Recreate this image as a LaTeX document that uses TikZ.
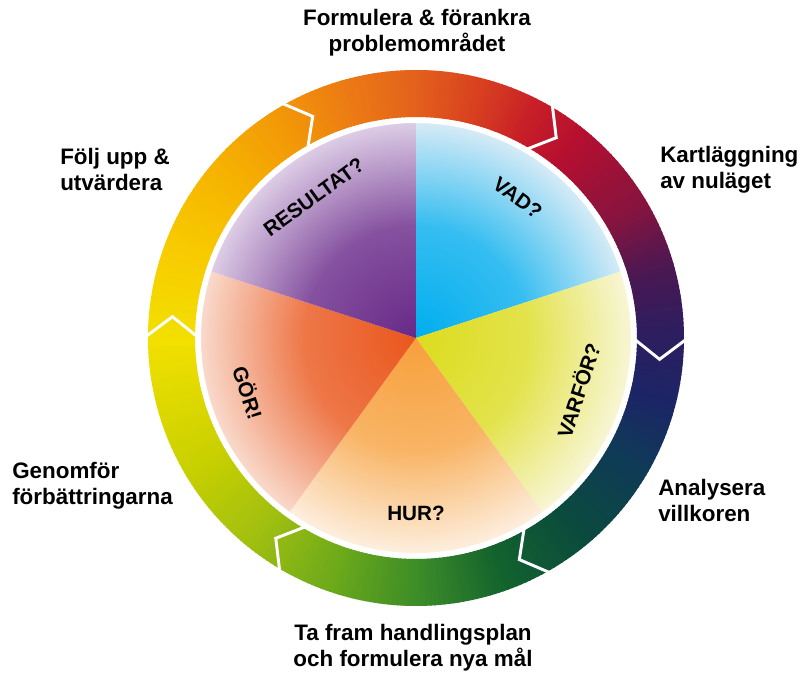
\documentclass[tikz,border=0pt]{standalone}
\usepackage{fontspec}
\setmainfont{Liberation Sans}
\usepackage{tikz}
\usetikzlibrary{positioning}
% pie colours (centre / rim)
\definecolor{vadin}{HTML}{00AEEF}
\definecolor{vadout}{HTML}{D6EBF6}
\definecolor{varforin}{HTML}{DCDC1E}
\definecolor{varforout}{HTML}{F8F6D6}
\definecolor{hurin}{HTML}{F7A03C}
\definecolor{hurout}{HTML}{FDEFDF}
\definecolor{gorin}{HTML}{EA561C}
\definecolor{gorout}{HTML}{F9DACC}
\definecolor{resin}{HTML}{682888}
\definecolor{resout}{HTML}{DDCDE6}
\colorlet{vadmid}{vadin!75!vadout}
\colorlet{varformid}{varforin!75!varforout}
\colorlet{hurmid}{hurin!75!hurout}
\colorlet{gormid}{gorin!75!gorout}
\colorlet{resmid}{resin!75!resout}
\pgfdeclareradialshading{vadshade}{\pgfpoint{0bp}{0bp}}{color(0bp)=(vadin); color(13bp)=(vadmid); color(25bp)=(vadout); color(50bp)=(vadout)}
\pgfdeclareradialshading{varforshade}{\pgfpoint{0bp}{0bp}}{color(0bp)=(varforin); color(13bp)=(varformid); color(25bp)=(varforout); color(50bp)=(varforout)}
\pgfdeclareradialshading{hurshade}{\pgfpoint{0bp}{0bp}}{color(0bp)=(hurin); color(13bp)=(hurmid); color(25bp)=(hurout); color(50bp)=(hurout)}
\pgfdeclareradialshading{gorshade}{\pgfpoint{0bp}{0bp}}{color(0bp)=(gorin); color(13bp)=(gormid); color(25bp)=(gorout); color(50bp)=(gorout)}
\pgfdeclareradialshading{resshade}{\pgfpoint{0bp}{0bp}}{color(0bp)=(resin); color(13bp)=(resmid); color(25bp)=(resout); color(50bp)=(resout)}
% ring colours, going round anticlockwise from the bottom
\definecolor{ringA}{HTML}{3C8C28}
\definecolor{ringB}{HTML}{12622E}
\definecolor{ringC}{HTML}{0B4A3E}
\definecolor{ringD}{HTML}{0F3A58}
\definecolor{ringE}{HTML}{1C2566}
\definecolor{ringF}{HTML}{2C1E60}
\definecolor{ringG}{HTML}{4A1852}
\definecolor{ringH}{HTML}{86143F}
\definecolor{ringI}{HTML}{B40F30}
\definecolor{ringJ}{HTML}{C81E28}
\definecolor{ringK}{HTML}{D84020}
\definecolor{ringL}{HTML}{E4621C}
\definecolor{ringM}{HTML}{EC7A14}
\definecolor{ringN}{HTML}{F29608}
\definecolor{ringO}{HTML}{F6B400}
\definecolor{ringP}{HTML}{F8CC00}
\definecolor{ringQ}{HTML}{F2E000}
\definecolor{ringR}{HTML}{C8D000}
\definecolor{ringS}{HTML}{A2C010}
\definecolor{ringT}{HTML}{6EAA1A}

\begin{document}
\begin{tikzpicture}[x=0.75pt, y=0.75pt,
    steplabel/.style={font=\bfseries\fontsize{16.8}{19.5}\selectfont, inner sep=0pt},
    qlabel/.style={font=\bfseries\fontsize{15.5}{18}\selectfont, inner sep=0pt},
    gapline/.style={draw=white, line width=2.2pt, line join=miter},
  ]
  \useasboundingbox (-416,-335) rectangle (384,338);

  % Outer ring: colour wheel
  \foreach \fromA/\fromC/\toA/\toC in {-90/ringA/-70/ringB, -70/ringB/-50/ringC, -50/ringC/-30/ringD,
      -30/ringD/-15/ringE, -15/ringE/0/ringF, 0/ringF/15/ringG, 15/ringG/30/ringH, 30/ringH/50/ringI,
      50/ringI/62/ringJ, 62/ringJ/75/ringK, 75/ringK/90/ringL, 90/ringL/105/ringM, 105/ringM/120/ringN,
      120/ringN/140/ringO, 140/ringO/160/ringP, 160/ringP/180/ringQ, 180/ringQ/210/ringR,
      210/ringR/230/ringS, 230/ringS/250/ringT, 250/ringT/270/ringA}{
    \pgfmathtruncatemacro\lastA{\toA-1}
    \foreach \t in {\fromA,...,\lastA}{
      \pgfmathtruncatemacro\pc{100*(\t-\fromA)/(\toA-\fromA)}
      \fill[\toC!\pc!\fromC] (\t:221) arc[start angle=\t, end angle=\t+1.3, radius=221]
        -- ({\t+1.3}:268) arc[start angle=\t+1.3, end angle=\t, radius=268] -- cycle;
    }
  }
  % white chevrons between the arrows
  \foreach \b in {0,60,...,300}
    \draw[gapline] (\b:272) -- ({\b-5}:244.5) -- (\b:217);

  % Inner pie
  \foreach \st/\sh in {18/vadshade, -54/varforshade, 234/hurshade, 162/gorshade, 90/resshade}{
    \begin{scope}
      \clip (0,0) -- (\st:240) arc[start angle=\st, end angle=\st+72, radius=240] -- cycle;
      \shade[shading=\sh] (0,0) circle (216);
    \end{scope}
  }
  \draw[white, line width=1.5pt] (0,0) circle (216);

  \node[qlabel, rotate=-36] (vad) at (54:173) {VAD?};
  \node[qlabel, rotate=72] (varfor) at (-18:170) {VARFÖR?};
  \node[qlabel] (hur) at (-90:175) {HUR?};
  \node[qlabel, rotate=-72] (gor) at (198:176) {GÖR!};
  \node[qlabel, rotate=36] (resultat) at (126:174) {RESULTAT?};

  % Step labels round the ring
  \node[steplabel, align=center] (formulera) at (1,305) {Formulera \& förankra\\problemområdet};
  \node[steplabel, align=left, anchor=west] (kartlagg) at (244,168) {Kartläggning\\av nuläget};
  \node[steplabel, align=left, anchor=west] (analys) at (242,-162) {Analysera\\villkoren};
  \node[steplabel, align=center] (tafram) at (-3,-310) {Ta fram handlingsplan\\och formulera nya mål};
  \node[steplabel, align=left, anchor=west] (genomfor) at (-404,-148) {Genomför\\förbättringarna};
  \node[steplabel, align=left, anchor=west] (foljupp) at (-356,168) {Följ upp \&\\utvärdera};
\end{tikzpicture}
\end{document}
